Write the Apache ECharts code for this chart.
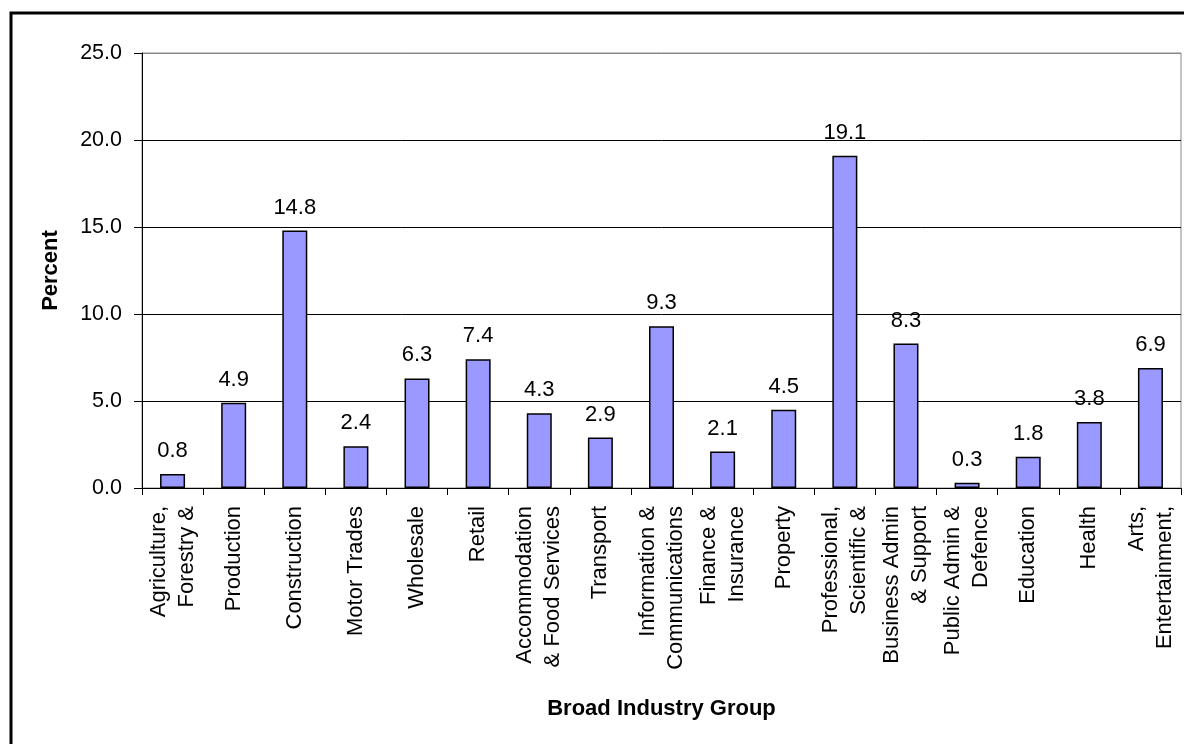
<!DOCTYPE html>
<html>
<head>
<meta charset="utf-8">
<style>
  html, body { margin: 0; padding: 0; background: #fff; }
  #chart { width: 1184px; height: 744px; }
</style>
<script src="https://cdn.jsdelivr.net/npm/echarts@6/dist/echarts.min.js"></script>
</head>
<body>
<div id="chart"></div>
<script>
const industries = [
  'Agriculture,\nForestry &',
  'Production',
  'Construction',
  'Motor Trades',
  'Wholesale',
  'Retail',
  'Accommodation\n& Food Services',
  'Transport',
  'Information &\nCommunications',
  'Finance &\nInsurance',
  'Property',
  'Professional,\nScientific &',
  'Business Admin\n& Support',
  'Public Admin &\nDefence',
  'Education',
  'Health',
  'Arts,\nEntertainment,'
]
const percent = [0.8, 4.9, 14.8, 2.4, 6.3, 7.4, 4.3, 2.9, 9.3, 2.1, 4.5, 19.1, 8.3, 0.3, 1.8, 3.8, 6.9]

const font = '"Liberation Sans", Arial, sans-serif'
const chart = echarts.init(document.getElementById('chart'))

chart.setOption({
  backgroundColor: '#fff',
  animation: false,
  textStyle: { fontFamily: font },
  graphic: [
    {
      type: 'rect',
      shape: { x: 11, y: 13, width: 1300, height: 900 },
      style: { fill: 'none', stroke: '#000', lineWidth: 3 },
      silent: true
    }
  ],
  grid: {
    left: 142, right: 3, top: 53, bottom: 256,
    show: true, borderColor: '#888', borderWidth: 1, backgroundColor: 'transparent'
  },
  xAxis: {
    type: 'category',
    data: industries,
    name: 'Broad Industry Group',
    nameLocation: 'middle',
    nameGap: 210,
    nameTextStyle: { color: '#000', fontSize: 22, fontWeight: 'bold', fontFamily: font },
    axisLine: { lineStyle: { color: '#000', width: 1 } },
    axisTick: { show: true, length: 7, lineStyle: { color: '#000' } },
    axisLabel: {
      interval: 0,
      rotate: 90,
      margin: 18,
      color: '#000',
      fontSize: 22,
      lineHeight: 28,
      fontFamily: font
    }
  },
  yAxis: {
    type: 'value',
    min: 0,
    max: 25,
    interval: 5,
    name: 'Percent',
    nameLocation: 'middle',
    nameGap: 80,
    nameTextStyle: { color: '#000', fontSize: 22, fontWeight: 'bold', fontFamily: font },
    axisLine: { show: true, lineStyle: { color: '#000', width: 1 } },
    axisTick: { show: true, length: 8, lineStyle: { color: '#000' } },
    splitLine: { lineStyle: { color: ['#000', '#000', '#000', '#000', '#000', '#888'], width: 1 } },
    axisLabel: {
      margin: 20,
      color: '#000',
      fontSize: 21.5,
      fontFamily: font,
      formatter: (v) => v.toFixed(1)
    }
  },
  series: [
    {
      type: 'bar',
      data: percent,
      barWidth: 25,
      itemStyle: { color: '#9999ff', borderColor: '#000', borderWidth: 1.5 },
      label: {
        show: true,
        position: 'top',
        distance: 12,
        color: '#000',
        fontSize: 22,
        fontFamily: font,
        formatter: (p) => p.value.toFixed(1)
      }
    }
  ]
})
</script>
</body>
</html>
